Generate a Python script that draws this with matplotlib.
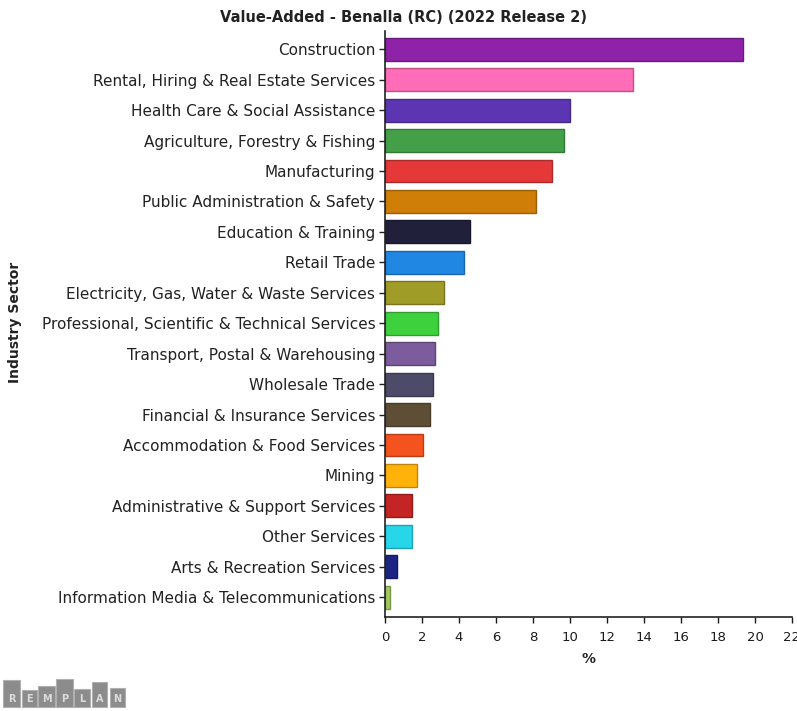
import matplotlib.pyplot as plt
import matplotlib.colors as mcolors
from matplotlib.patches import Rectangle

plt.rcParams['font.family'] = ['DejaVu Sans']

# Value-added share by industry, % of total
sectors = [
    "Construction",
    "Rental, Hiring & Real Estate Services",
    "Health Care & Social Assistance",
    "Agriculture, Forestry & Fishing",
    "Manufacturing",
    "Public Administration & Safety",
    "Education & Training",
    "Retail Trade",
    "Electricity, Gas, Water & Waste Services",
    "Professional, Scientific & Technical Services",
    "Transport, Postal & Warehousing",
    "Wholesale Trade",
    "Financial & Insurance Services",
    "Accommodation & Food Services",
    "Mining",
    "Administrative & Support Services",
    "Other Services",
    "Arts & Recreation Services",
    "Information Media & Telecommunications",
]
shares = [19.33, 13.38, 10.0, 9.69, 9.04, 8.18, 4.57, 4.27, 3.17, 2.88,
          2.72, 2.57, 2.43, 2.07, 1.73, 1.48, 1.46, 0.66, 0.27]
bar_colors = [
    "#8e22a8", "#ff6cb8", "#5c36b2", "#43a048", "#e53838", "#cf7e08",
    "#20203a", "#2088e2", "#a09c28", "#3dd23d", "#7c5c9c", "#4c4c68",
    "#5e4e36", "#f4521e", "#ffb20a", "#c42424", "#28d6ea", "#1c2484",
    "#a2c860",
]
xticks = list(range(0, 23, 2))


def darker(c, f=0.75):
    r, g, b = mcolors.to_rgb(c)
    return (r * f, g * f, b * f)


fig = plt.figure(figsize=(7.97, 7.11), dpi=100)
ax = fig.add_axes([385 / 797, 94 / 711, 407 / 797, 586 / 711])

ypos = list(range(len(sectors)))
ax.barh(ypos, shares, height=0.75, color=bar_colors,
        edgecolor=[darker(c) for c in bar_colors], linewidth=1.0)

ax.set_ylim(18.65, -0.6)
ax.set_xlim(0, 22)
ax.set_xticks(xticks)
ax.set_yticks(ypos)
ax.set_yticklabels(sectors, fontsize=11, color="#222222")
ax.tick_params(axis='x', labelsize=9.5, length=4, width=1, colors="#1a1a1a", pad=6)
ax.tick_params(axis='y', length=4, width=1, colors="#222222", pad=3)
for side in ("top", "right"):
    ax.spines[side].set_visible(False)
for side in ("left", "bottom"):
    ax.spines[side].set_color("#222222")
    ax.spines[side].set_linewidth(1.2)

ax.set_xlabel("%", fontsize=10, fontweight="bold", color="#222222", labelpad=6)
fig.text(15 / 797, 1 - 322 / 711, "Industry Sector", rotation=90, fontsize=10,
         fontweight="bold", ha="center", va="center", color="#222222")
fig.text(403 / 797, 1 - 18 / 711, "Value-Added - Benalla (RC) (2022 Release 2)",
         fontsize=10.5, fontweight="bold", ha="center", va="center", color="#222222")

# REMPLAN logo: grey blocks of varied heights with letters along the base
blocks = [(3, 17, 27), (22, 15, 17), (38, 17, 21), (56, 17, 28),
          (74, 16, 18), (92, 15, 25), (110, 15, 19)]
letters = "REMPLAN"
base = 707
for (x0, w, h), ch in zip(blocks, letters):
    fig.patches.append(Rectangle((x0 / 797, 1 - base / 711), w / 797, h / 711,
                                 transform=fig.transFigure, facecolor="#8c8c8c",
                                 edgecolor="#b0b0b0", linewidth=0.8))
    fig.text((x0 + w / 2) / 797, 1 - 699 / 711, ch, fontsize=7, fontweight="bold",
             color="#dcdcdc", ha="center", va="center")

fig.savefig("out.png", dpi=100)
